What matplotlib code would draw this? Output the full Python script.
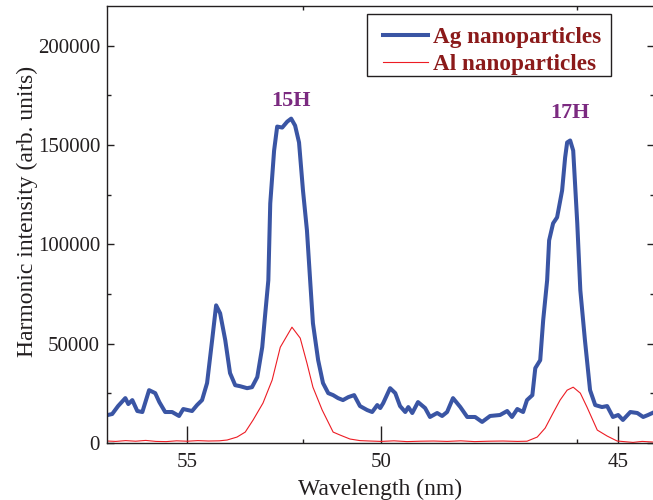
import numpy as np
import matplotlib
matplotlib.use('Agg')
import matplotlib.pyplot as plt
from matplotlib.ticker import FixedLocator, MultipleLocator
from matplotlib.font_manager import FontProperties
from matplotlib.patches import Rectangle

plt.rcParams['font.family'] = ['Liberation Serif', 'DejaVu Serif']

# ---- data ----
ag_wl = [57.37, 57.21, 57.03, 56.81, 56.72, 56.60, 56.45, 56.30, 56.10, 55.92, 55.80, 55.63, 55.43,
         55.23, 55.11, 54.86, 54.72, 54.58, 54.44, 54.30, 54.19, 54.08, 53.94, 53.81, 53.67, 53.54,
         53.35, 53.22, 53.08, 52.95, 52.87, 52.79, 52.74, 52.64, 52.56, 52.43, 52.30, 52.20, 52.10,
         52.00, 51.90, 51.80, 51.72, 51.65, 51.52, 51.40, 51.27, 51.15, 51.03, 50.91, 50.78, 50.64,
         50.50, 50.33, 50.21, 50.09, 50.02, 49.95, 49.79, 49.67, 49.56, 49.44, 49.37, 49.28, 49.15,
         48.99, 48.88, 48.72, 48.61, 48.50, 48.37, 48.21, 48.06, 47.89, 47.74, 47.57, 47.36, 47.21,
         47.11, 47.00, 46.88, 46.80, 46.69, 46.63, 46.53, 46.47, 46.39, 46.35, 46.27, 46.19, 46.09,
         46.03, 45.99, 45.93, 45.87, 45.79, 45.73, 45.64, 45.54, 45.44, 45.31, 45.21, 45.10, 45.00,
         44.91, 44.77, 44.64, 44.53, 44.44, 44.36]
ag_int = [14000, 14600, 18600, 22600, 19600, 21600, 16100, 15600, 26600, 25100, 20600, 15600, 15600,
          13600, 17100, 16100, 19100, 21600, 30200, 51800, 69300, 65300, 51800, 35200, 29100, 28600,
          27600, 28100, 33200, 48200, 65300, 81900, 120600, 147200, 159300, 158800, 161800, 163300, 159800,
          151300, 127100, 107000, 81900, 60300, 41700, 30200, 25100, 24100, 22600, 21600, 23100, 24100,
          18600, 16600, 15600, 19100, 17600, 20100, 27600, 25100, 18600, 15600, 18100, 15100, 20600,
          17600, 13100, 15100, 13600, 15600, 22600, 18100, 13100, 13100, 10600, 13600, 14100, 16100,
          13100, 17100, 15600, 21600, 24100, 37700, 41700, 61800, 81900, 102000, 110600, 113600, 127100,
          143700, 151300, 152300, 147200, 110600, 76900, 51800, 26600, 19100, 18100, 18600, 13100, 14100,
          11600, 15600, 15100, 13100, 14100, 15100]

al_wl = [57.37, 57.10, 56.80, 56.50, 56.20, 55.90, 55.60, 55.30, 55.00, 54.70, 54.40, 54.10, 53.89,
         53.62, 53.40, 53.19, 52.93, 52.69, 52.48, 52.18, 51.97, 51.80, 51.65, 51.42, 51.15, 50.98,
         50.74, 50.50, 50.26, 50.00, 49.70, 49.40, 49.10, 48.80, 48.50, 48.20, 47.90, 47.60, 47.30,
         47.00, 46.80, 46.59, 46.43, 46.27, 46.13, 45.99, 45.87, 45.73, 45.60, 45.40, 45.21, 45.02,
         44.85, 44.72, 44.55, 44.36]
al_int = [1000, 800, 1200, 900, 1300, 800, 700, 1100, 900, 1200, 1000, 1100, 1500,
          3000, 5500, 11600, 20100, 31700, 48200, 58300, 52800, 40200, 28100, 16600, 5500, 4000,
          2000, 1200, 1000, 800, 1100, 700, 900, 1000, 800, 1100, 700, 900, 1000,
          800, 900, 3000, 7500, 15100, 21600, 26600, 28100, 25100, 18100, 6500, 3500, 1000,
          600, 300, 800, 500]

x_major = [55, 50, 45]
x_minor = [51.9, 45.8]
y_major = [0, 50000, 100000, 150000, 200000]
harm_labels = ['15H', '17H']
harm_wl = [52.2, 45.93]
harm_y = [172000, 166000]
series_labels = ['Ag nanoparticles', 'Al nanoparticles']

ink = '#231F20'

fig = plt.figure(figsize=(6.53, 5.0), dpi=100)
ax = fig.add_axes([107/653, 57/500, 547/653, 437/500])
ax.set_xscale('function', functions=(lambda x: -1.0/np.asarray(x, dtype=float),
                                     lambda y: -1.0/np.asarray(y, dtype=float)))

ax.plot(ag_wl, ag_int, color='#3A55A4', lw=2.9, label=series_labels[0], solid_joinstyle='round')
ax.plot(al_wl, al_int, color='#ED1C24', lw=0.8, label=series_labels[1])

ax.set_xlim(57.37, 44.33)
ax.set_ylim(0, 220000)

ax.xaxis.set_major_locator(FixedLocator(x_major))
ax.xaxis.set_minor_locator(FixedLocator(x_minor))
ax.set_xticklabels([str(v) for v in x_major])
ax.yaxis.set_major_locator(FixedLocator(y_major))
ax.yaxis.set_minor_locator(MultipleLocator(25000))

ax.tick_params(axis='x', which='major', direction='in', length=12, width=1, colors=ink,
               labelsize=15, pad=7, top=False, bottom=True)
ax.tick_params(axis='x', which='minor', direction='in', length=3, width=1, colors=ink,
               top=True, bottom=True)
ax.tick_params(axis='y', which='major', direction='in', length=5, width=1, colors=ink,
               labelsize=15, pad=5, left=True, right=True)
ax.tick_params(axis='y', which='minor', direction='in', length=3, width=1, colors=ink,
               left=True, right=True)

for s in ax.spines.values():
    s.set_color(ink)
    s.set_linewidth(1.0)

ax.set_xlabel('Wavelength (nm)', fontsize=17, color=ink, labelpad=5)
ax.set_ylabel('Harmonic intensity (arb. units)', fontsize=17, color=ink)
ax.yaxis.set_label_coords(-0.126, 0.531)

for lab, xw, yv in zip(harm_labels, harm_wl, harm_y):
    ax.text(xw, yv, lab, color='#7B2A80', fontsize=16, fontweight='bold',
            ha='center', va='center')

# legend frame (drawn separately to match the original's asymmetric padding)
ax.add_patch(Rectangle((0.4753, 0.8398), 0.4461, 0.1419, transform=ax.transAxes,
                       facecolor='white', edgecolor=ink, lw=1.0, zorder=4))
leg = ax.legend(loc='center left', bbox_to_anchor=(0.5046, 0.897), frameon=False,
                prop=FontProperties(family='Liberation Serif', weight='bold', size=16.7),
                handlelength=1.94, handletextpad=0.215, labelspacing=0.25, borderpad=0.0,
                borderaxespad=0)
leg.set_zorder(5)
for t in leg.get_texts():
    t.set_color('#8B1A1A')

fig.savefig('out.png', dpi=100)
